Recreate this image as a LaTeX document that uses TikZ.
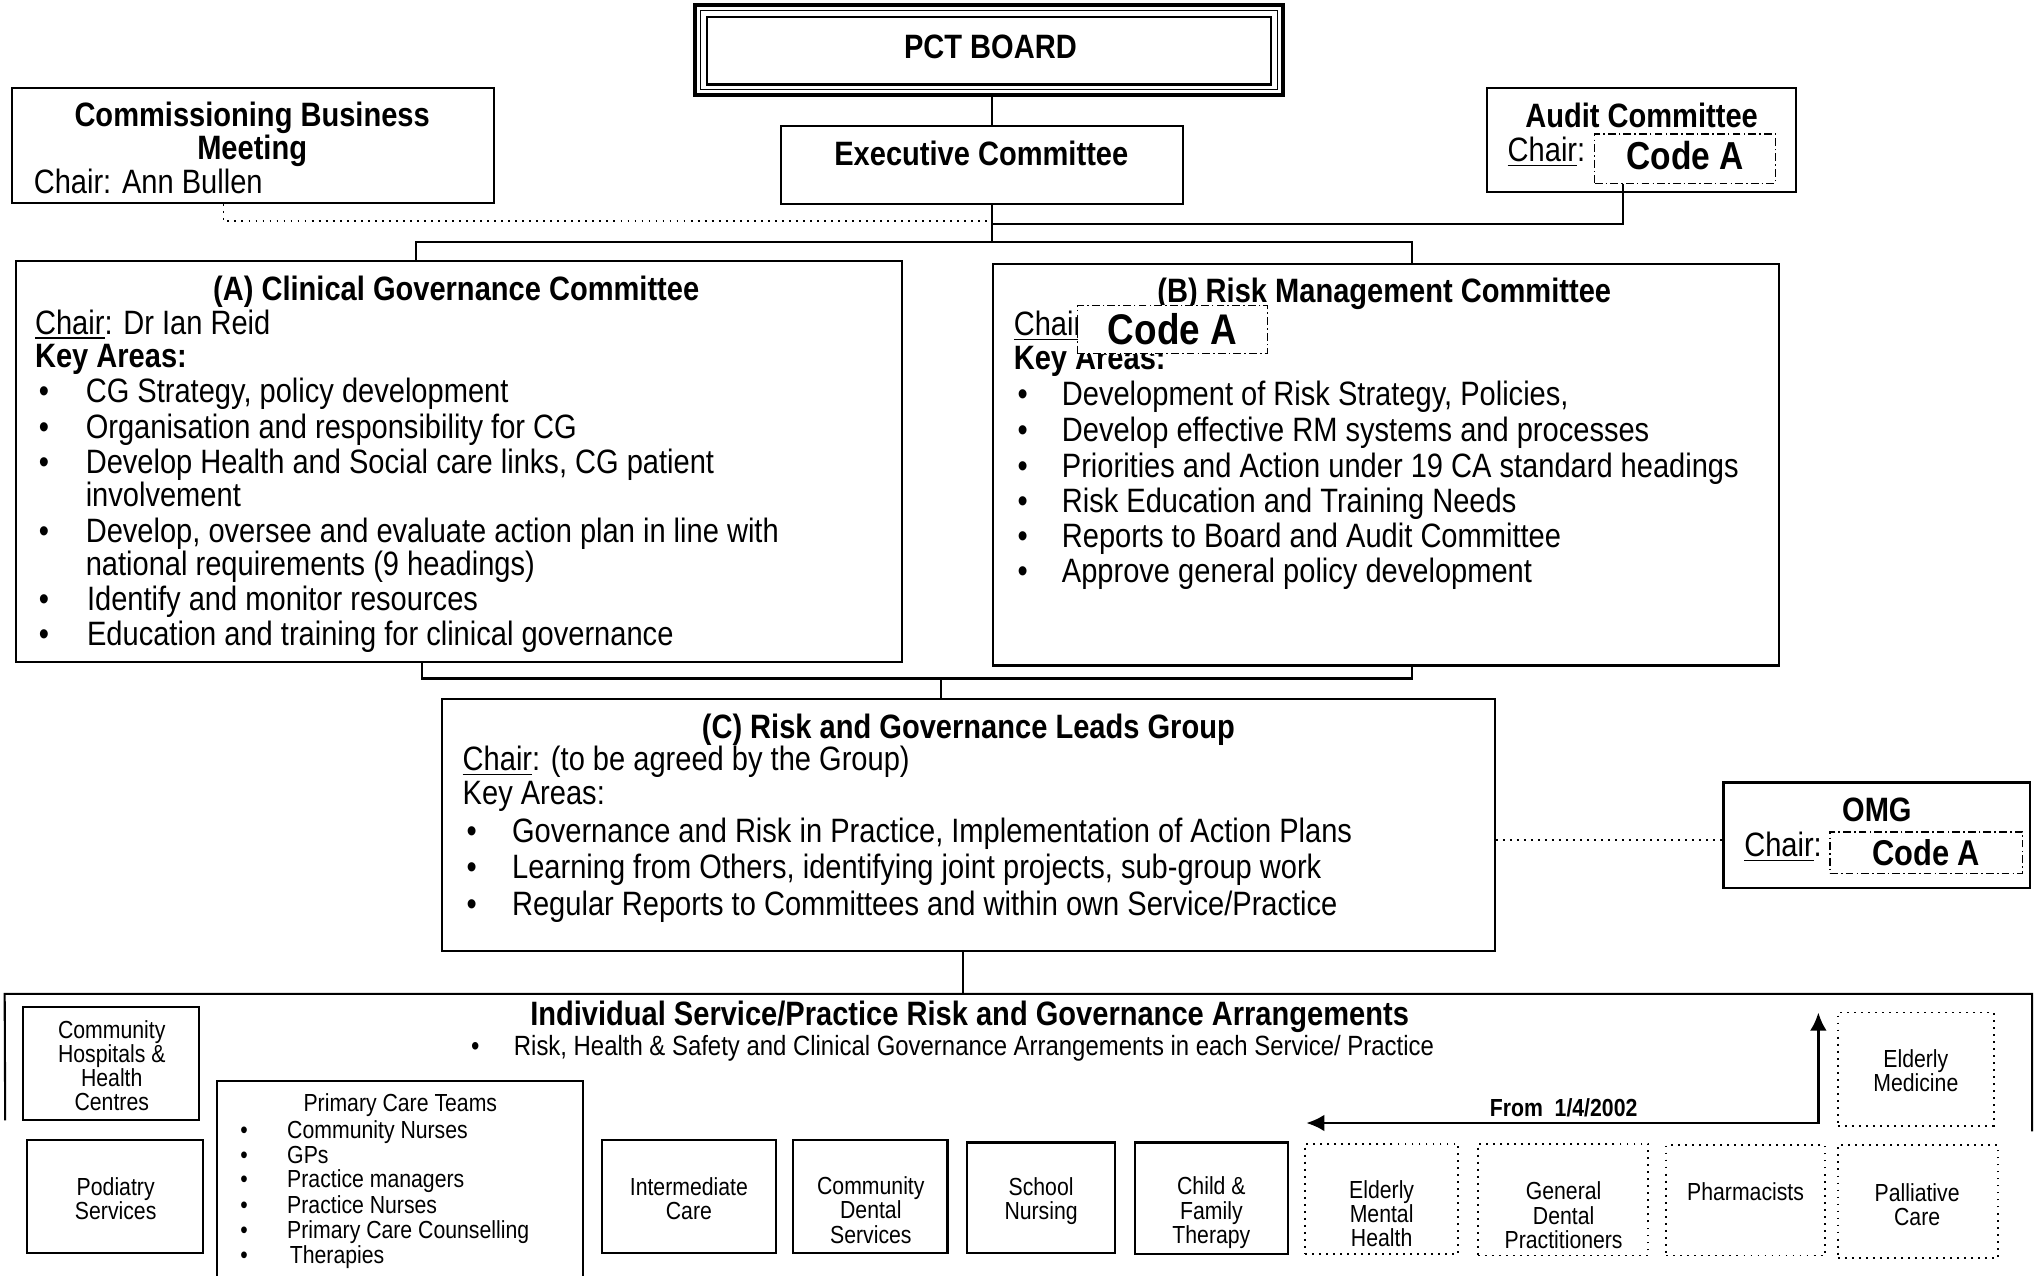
\documentclass[tikz,border=0pt]{standalone}
\usepackage{fontspec}
\setmainfont{Liberation Sans}[FakeStretch=0.86]
\usetikzlibrary{fit,arrows.meta}
\newcommand\fmain{\fontsize{13}{13.5}\selectfont}
\newcommand\fsm{\fontsize{9.5}{9.3}\selectfont}
\newcommand\fmid{\fontsize{10.7}{10.7}\selectfont}
\newcommand\fcode[1]{\fontsize{#1}{#1}\selectfont\bfseries}
\newcommand\bline[5]{% name, xbullet, xtext, baseline, text
  \node[txt,anchor=base west] (#1b) at (#2,#4) {\textbullet};
  \node[txt,anchor=base west] (#1) at (#3,#4) {#5};}
\newcommand\sbline[5]{%
  \node[stx,anchor=base west] (#1b) at (#2,#4) {\textbullet};
  \node[stx,anchor=base west] (#1) at (#3,#4) {#5};}
\begin{document}
\begin{tikzpicture}[x=0.5pt,y=-0.5pt,
 box/.style={draw,line width=0.8pt,inner sep=0pt},
 dotbox/.style={draw,dotted,line width=0.7pt,inner sep=0pt},
 codebox/.style={draw,line width=0.5pt,dash pattern=on 3pt off 1.2pt on 0.6pt off 1.2pt,fill=white,inner sep=0pt},
 txt/.style={inner sep=0pt,outer sep=0pt,font=\fmain},
 ttl/.style={inner sep=0pt,outer sep=0pt,font=\fmain\bfseries},
 stx/.style={inner sep=0pt,outer sep=0pt,font=\fsm},
 stxt/.style={inner sep=0pt,outer sep=0pt,font=\fsm,align=center},
 conn/.style={line width=0.8pt},
 dconn/.style={line width=0.7pt,dotted}]
\fill[white] (0,0) rectangle (1568,981);
\useasboundingbox (0,0) rectangle (1568,981);

% PCT board
\node[fit={(535,4)(987,73)},draw,line width=1.6pt,inner sep=0pt] (pct) {};
\node[fit={(539,8)(983,69)},draw,line width=0.5pt,inner sep=0pt] (pcta) {};
\node[fit={(544,13)(978,65)},draw,line width=0.9pt,inner sep=0pt] (pctb) {};
\node[ttl,anchor=base] (pcttxt) at (762,45) {PCT BOARD};

% Executive
\node[box,fit={(601,97)(910,157)}] (exec) {};
\node[ttl,anchor=base] (exectxt) at (755,127) {Executive Committee};

% Commissioning
\node[box,fit={(9,68)(380,156)}] (cbm) {};
\node[ttl,anchor=base] (cbm1) at (194,97) {Commissioning Business};
\node[ttl,anchor=base] (cbm2) at (194,123) {Meeting};
\node[txt,anchor=base west] (cbm3) at (26,149) {Chair: Ann Bullen};

% Audit
\node[box,fit={(1144,68)(1382,148)}] (audit) {};
\node[ttl,anchor=base] (aud1) at (1263,98) {Audit Committee};
\node[txt,anchor=base west] (aud2) at (1160,124) {\underline{Chair}:};
\node[codebox,fit={(1227,103)(1366,141)}] (acode) {};
\node[inner sep=0pt,font=\fcode{15}] (acodet) at ([yshift=1pt]acode.center) {Code A};

% Box A
\node[box,fit={(12,201)(694,509)}] (cga) {};
\node[ttl,anchor=base] (cga0) at (351,231) {(A) Clinical Governance Committee};
\node[txt,anchor=base west] (cga1) at (27,257) {\underline{Chair}: Dr Ian Reid};
\node[ttl,anchor=base west] (cga2) at (27,283) {Key Areas:};
\bline{ca1}{30}{66}{310}{CG Strategy, policy development}
\bline{ca2}{30}{66}{337}{Organisation and responsibility for CG}
\bline{ca3}{30}{66}{364}{Develop Health and Social care links, CG patient}
\node[txt,anchor=base west] (ca3x) at (66,390) {involvement};
\bline{ca4}{30}{66}{417}{Develop, oversee and evaluate action plan in line with}
\node[txt,anchor=base west] (ca4x) at (66,443) {national requirements (9 headings)};
\bline{ca5}{30}{67}{470}{Identify and monitor resources}
\bline{ca6}{30}{67}{497}{Education and training for clinical governance}

% Box B
\node[box,fit={(764,203)(1369,512)}] (rmc) {};
\node[ttl,anchor=base] (rmc0) at (1065,233) {(B) Risk Management Committee};
\node[txt,anchor=base west] (rmc1) at (780,258) {\underline{Chair}:};
\node[ttl,anchor=base west] (rmc2) at (780,284) {Key Areas:};
\node[codebox,fit={(829,235)(975,272)}] (bcode) {};
\node[inner sep=0pt,font=\fcode{16.5}] (bcodet) at (bcode.center) {Code A};
\bline{cb1}{783}{817}{312}{Development of Risk Strategy, Policies,}
\bline{cb2}{783}{817}{340}{Develop effective RM systems and processes}
\bline{cb3}{783}{817}{367}{Priorities and Action under 19 CA standard headings}
\bline{cb4}{783}{817}{394}{Risk Education and Training Needs}
\bline{cb5}{783}{817}{421}{Reports to Board and Audit Committee}
\bline{cb6}{783}{817}{448}{Approve general policy development}

% Box C
\node[box,fit={(340,538)(1150,732)}] (rgl) {};
\node[ttl,anchor=base] (rgl0) at (745,568) {(C) Risk and Governance Leads Group};
\node[txt,anchor=base west] (rgl1) at (356,593) {\underline{Chair}: (to be agreed by the Group)};
\node[txt,anchor=base west] (rgl2) at (356,619) {Key Areas:};
\bline{cc1}{359}{394}{648}{Governance and Risk in Practice, Implementation of Action Plans}
\bline{cc2}{359}{394}{676}{Learning from Others, identifying joint projects, sub-group work}
\bline{cc3}{359}{394}{704}{Regular Reports to Committees and within own Service/Practice}

% OMG
\node[box,fit={(1326,602)(1562,683)}] (omg) {};
\node[ttl,anchor=base] (omg0) at (1444,632) {OMG};
\node[txt,anchor=base west] (omg1) at (1342,659) {\underline{Chair}:};
\node[codebox,fit={(1408,640)(1556,672)}] (ocode) {};
\node[inner sep=0pt,font=\fcode{13.8}] (ocodet) at (ocode.center) {Code A};

% connectors top
\coordinate (j1) at (763,186);
\coordinate (jd) at (763,170);
\coordinate (ja) at (320,186);
\coordinate (jb) at (1086,186);
\draw[conn] (j1 |- pct.south) -- (j1 |- exec.north);
\draw[conn] (j1 |- exec.south) -- (j1);
\draw[conn] (ja |- cga.north) -- (ja) -- (jb) -- (jb |- rmc.north);
\coordinate (cbmd) at (172,170);
\draw[dconn] (cbmd |- cbm.south) -- (cbmd) -- (jd);
\coordinate (aud) at (1249,172);
\draw[conn] (aud |- acode.south) -- (aud) -- (j1 |- aud);

% connectors middle
\coordinate (ka) at (325,522);
\coordinate (kb) at (1086,522);
\coordinate (jab) at (724,522);
\draw[conn] (ka |- cga.south) -- (ka) -- (kb) -- (kb |- rmc.south);
\draw[conn] (jab) -- (jab |- rgl.north);
\coordinate (om) at (1326,646);
\draw[dconn] (rgl.east |- om) -- (omg.west |- om);

% container
\node[fit={(4,765)(1563,870)},inner sep=0pt] (isp) {};
\coordinate (ispl) at (4,862);
\draw[conn] (ispl) -- (isp.north west) -- (isp.north east) -- (isp.south east);
\coordinate (cc) at (741,748);
\draw[conn] (cc |- rgl.south) -- (cc |- isp.north);
\node[ttl,anchor=base] (isp0) at (746,789) {Individual Service/Practice Risk and Governance Arrangements};
\node[inner sep=0pt,font=\fmid,anchor=base west] (isp1b) at (362,812) {\textbullet};
\node[inner sep=0pt,font=\fmid,anchor=base west] (isp1) at (395,812) {Risk, Health \& Safety and Clinical Governance Arrangements in each Service/ Practice};

% small boxes
\node[box,fit={(18,775)(153,862)}] (chc) {};
\node[stxt] (chct) at (86,820) {Community\\Hospitals \&\\Health\\Centres};
\node[box,fit={(21,877)(156,964)}] (pod) {};
\node[stxt] (podt) at (89,922) {Podiatry\\Services};
\node[fit={(167,832)(448,985)},inner sep=0pt] (pcteam) {};
\draw[conn] (pcteam.south west) -- (pcteam.north west) -- (pcteam.north east) -- (pcteam.south east);
\node[stx,anchor=base] (pcteam0) at (308,855) {Primary Care Teams};
\sbline{pt1}{185}{221}{876}{Community Nurses}
\sbline{pt2}{185}{221}{895}{GPs}
\sbline{pt3}{185}{221}{914}{Practice managers}
\sbline{pt4}{185}{221}{934}{Practice Nurses}
\sbline{pt5}{185}{221}{953}{Primary Care Counselling}
\sbline{pt6}{185}{223}{972}{Therapies}
\node[box,fit={(463,877)(597,964)}] (ic) {};
\node[stxt] (ict) at (530,922) {Intermediate\\Care};
\node[box,fit={(610,877)(729,964)}] (cds) {};
\node[stxt] (cdst) at (670,931) {Community\\Dental\\Services};
\node[box,fit={(744,879)(858,964)}] (sn) {};
\node[stxt] (snt) at (801,924) {School\\Nursing};
\node[box,fit={(873,879)(991,965)}] (cft) {};
\node[stxt] (cftt) at (932,933) {Child \&\\Family\\Therapy};
\node[dotbox,fit={(1004,880)(1122,965)}] (emh) {};
\node[stxt] (emht) at (1063,934) {Elderly\\Mental\\Health};
\node[dotbox,fit={(1137,880)(1268,966)}] (gdp) {};
\node[stxt] (gdpt) at (1203,935) {General\\Dental\\Practitioners};
\node[dotbox,fit={(1282,881)(1404,966)}] (ph) {};
\node[stxt] (pht) at (1343,917) {Pharmacists};
\node[dotbox,fit={(1414,881)(1537,968)}] (pc) {};
\node[stxt] (pct) at (1475,927) {Palliative\\Care};
\node[dotbox,fit={(1414,779)(1534,866)}] (em) {};
\node[stxt] (emt) at (1474,824) {Elderly\\Medicine};

% arrow
\coordinate (turn) at (1399,864);
\coordinate (arrL) at (1005,864);
\coordinate (arrU) at (1399,779);
\draw[line width=1.1pt,{Latex[length=7pt,width=6.5pt]}-{Latex[length=7pt,width=6.5pt]}] (arrL) -- (turn) -- (arrU);
\node[inner sep=0pt,font=\fsm\bfseries] (from) at (1203,852) {From\ \ 1/4/2002};
\end{tikzpicture}
\end{document}
